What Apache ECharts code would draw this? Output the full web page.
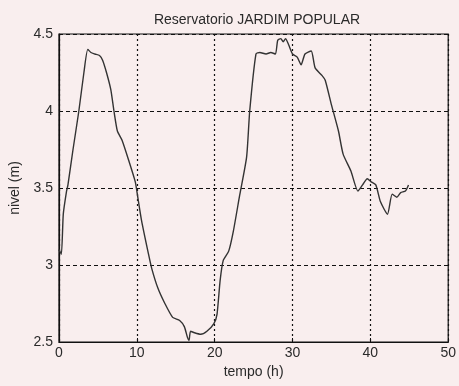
<!DOCTYPE html>
<html>
<head>
<meta charset="utf-8">
<script src="https://cdn.jsdelivr.net/npm/echarts@6/dist/echarts.min.js"></script>
<style>
html,body{margin:0;padding:0;background:#f9eeee;}
#c{width:459px;height:386px;}
</style>
</head>
<body>
<div id="c"></div>
<script>
const titleText = "Reservatorio JARDIM POPULAR";
const xLabel = "tempo (h)";
const yLabel = "nivel (m)";
const timeH = [0, 0.3, 0.55, 0.97, 1.15, 1.8, 2.55, 3.2, 3.7, 4.1, 4.6, 5.2, 5.6, 6.1, 6.65, 7.06, 7.5, 8.1, 8.95, 9.8, 10.0, 10.6, 11.5, 11.9, 12.7, 13.6, 14.6, 15.5, 16.1, 16.5, 16.7, 16.9, 17.4, 18.2, 19.0, 19.9, 20.3, 20.7, 21.1, 21.8, 22.4, 23.2, 24.1, 24.5, 25.3, 25.8, 26.6, 27.2, 27.8, 28.1, 28.5, 28.8, 29.1, 29.5, 30.0, 30.6, 31.1, 31.6, 32.4, 32.9, 33.8, 34.2, 35.0, 35.9, 36.5, 37.5, 38.4, 39.0, 39.6, 40.1, 40.7, 41.3, 42.2, 42.8, 43.4, 43.9, 44.5, 44.9];
const levelM = [3.10, 3.07, 3.33, 3.48, 3.52, 3.75, 4.00, 4.25, 4.40, 4.38, 4.37, 4.36, 4.33, 4.25, 4.14, 4.00, 3.87, 3.81, 3.68, 3.54, 3.48, 3.29, 3.07, 2.98, 2.85, 2.75, 2.66, 2.64, 2.60, 2.53, 2.51, 2.57, 2.56, 2.55, 2.57, 2.62, 2.68, 2.90, 3.03, 3.09, 3.22, 3.45, 3.70, 4.00, 4.37, 4.38, 4.37, 4.38, 4.37, 4.46, 4.47, 4.45, 4.47, 4.43, 4.37, 4.35, 4.30, 4.37, 4.39, 4.28, 4.23, 4.20, 4.04, 3.87, 3.72, 3.61, 3.48, 3.52, 3.56, 3.54, 3.52, 3.41, 3.33, 3.46, 3.44, 3.47, 3.48, 3.52];

const chart = echarts.init(document.getElementById('c'), null, {renderer:'canvas'});
const font = 'Liberation Sans, Arial, sans-serif';
const txt = '#2a2a2a';
chart.setOption({
  backgroundColor: '#f9eeee',
  animation: false,
  title: {
    text: titleText, left: 252, top: 8, textAlign: 'center',
    textStyle: {fontFamily: font, fontSize: 14, fontWeight: 'normal', color: txt}
  },
  grid: {left: 59, right: 4, top: 34, bottom: 44, show: true, borderColor: '#111', borderWidth: 1.2, backgroundColor: 'transparent'},
  xAxis: {
    type: 'value', min: 0, max: 50, interval: 10,
    name: xLabel, nameLocation: 'middle', nameGap: 21,
    nameTextStyle: {fontFamily: font, fontSize: 14, color: txt},
    axisLine: {show: true, lineStyle: {color: '#111', width: 1.2}},
    axisTick: {show: true, inside: true, length: 4, lineStyle: {color: '#111'}},
    axisLabel: {fontFamily: font, fontSize: 14, color: txt, margin: 4, showMaxLabel: true},
    splitLine: {show: true, lineStyle: {color: '#111', type: [2, 3], width: 1.2}}
  },
  yAxis: {
    type: 'value', min: 2.5, max: 4.5, interval: 0.5,
    name: yLabel, nameLocation: 'middle', nameGap: 36,
    nameTextStyle: {fontFamily: font, fontSize: 14, color: txt},
    axisLine: {show: true, lineStyle: {color: '#111', width: 1.2}},
    axisTick: {show: true, inside: true, length: 4, lineStyle: {color: '#111'}},
    axisLabel: {fontFamily: font, fontSize: 14, color: txt, margin: 6},
    splitLine: {show: true, lineStyle: {color: '#111', type: [4, 3], width: 1.2}}
  },
  series: [{
    type: 'line', data: timeH.map((t, i) => [t, levelM[i]]),
    showSymbol: false, smooth: 0.2,
    lineStyle: {color: '#333', width: 1.4}
  }]
});
</script>
</body>
</html>
